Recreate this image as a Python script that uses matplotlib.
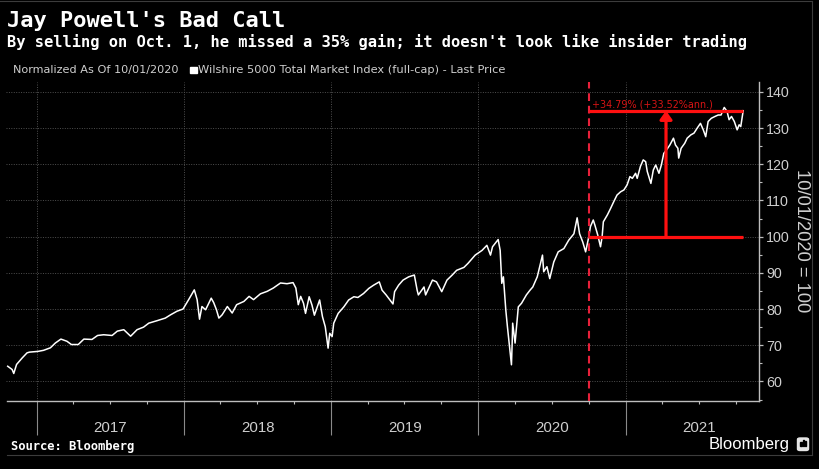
"""Jay Powell's Bad Call: Wilshire 5000 normalized to 10/01/2020 = 100, Bloomberg terminal style.

Values were read by eye off the published chart (roughly weekly turning points),
so the line is a traced approximation, not the daily index.
"""

import matplotlib

matplotlib.use("Agg")
import matplotlib.dates as mdates
import matplotlib.pyplot as plt
import pandas as pd
from matplotlib.lines import Line2D
from matplotlib.patches import FancyBboxPatch, Rectangle
from matplotlib.ticker import MultipleLocator

# --- data ------------------------------------------------------------------
DATES = [
    "2016-10-20", "2016-10-31", "2016-11-04", "2016-11-11", "2016-11-25", "2016-12-07",
    "2016-12-13", "2017-01-03", "2017-01-17", "2017-02-03", "2017-02-15", "2017-03-01",
    "2017-03-16", "2017-03-27", "2017-04-13", "2017-04-27", "2017-05-17", "2017-05-31",
    "2017-06-15", "2017-07-06", "2017-07-19", "2017-08-04", "2017-08-21", "2017-09-06",
    "2017-09-22", "2017-10-05", "2017-10-26", "2017-11-15", "2017-11-28", "2017-12-14",
    "2017-12-29", "2018-01-12", "2018-01-26", "2018-02-02", "2018-02-08", "2018-02-14",
    "2018-02-23", "2018-03-09", "2018-03-15", "2018-03-22", "2018-03-28", "2018-04-05",
    "2018-04-18", "2018-04-30", "2018-05-11", "2018-05-29", "2018-06-11", "2018-06-22",
    "2018-07-09", "2018-07-26", "2018-08-10", "2018-08-28", "2018-09-13", "2018-09-28",
    "2018-10-05", "2018-10-11", "2018-10-17", "2018-10-24", "2018-10-29", "2018-11-07",
    "2018-11-14", "2018-11-20", "2018-12-03", "2018-12-10", "2018-12-17", "2018-12-24",
    "2018-12-28", "2019-01-03", "2019-01-07", "2019-01-18", "2019-02-01", "2019-02-13",
    "2019-02-26", "2019-03-08", "2019-03-22", "2019-04-04", "2019-04-16", "2019-04-30",
    "2019-05-07", "2019-05-17", "2019-06-03", "2019-06-07", "2019-06-17", "2019-06-28",
    "2019-07-12", "2019-07-26", "2019-08-02", "2019-08-05", "2019-08-19", "2019-08-23",
    "2019-09-09", "2019-09-19", "2019-10-02", "2019-10-15", "2019-10-28", "2019-11-08",
    "2019-11-26", "2019-12-06", "2019-12-24", "2020-01-10", "2020-01-22", "2020-01-31",
    "2020-02-05", "2020-02-19", "2020-02-24", "2020-02-27", "2020-02-28", "2020-03-03",
    "2020-03-09", "2020-03-13", "2020-03-23", "2020-03-25", "2020-03-26", "2020-04-01",
    "2020-04-09", "2020-04-17", "2020-04-29", "2020-05-08", "2020-05-15", "2020-05-26",
    "2020-06-08", "2020-06-11", "2020-06-19", "2020-06-26", "2020-07-06", "2020-07-17",
    "2020-07-31", "2020-08-12", "2020-08-25", "2020-09-02", "2020-09-08", "2020-09-16",
    "2020-09-23", "2020-10-01", "2020-10-05", "2020-10-12", "2020-10-16", "2020-10-23",
    "2020-10-30", "2020-11-03", "2020-11-06", "2020-11-16", "2020-11-24", "2020-12-02",
    "2020-12-10", "2020-12-19", "2020-12-27", "2021-01-04", "2021-01-11", "2021-01-17",
    "2021-01-25", "2021-01-29", "2021-02-06", "2021-02-13", "2021-02-19", "2021-02-23",
    "2021-03-04", "2021-03-10", "2021-03-16", "2021-03-24", "2021-03-30", "2021-04-05",
    "2021-04-12", "2021-04-20", "2021-04-29", "2021-05-04", "2021-05-10", "2021-05-12",
    "2021-05-18", "2021-05-27", "2021-06-02", "2021-06-11", "2021-06-19", "2021-06-27",
    "2021-07-05", "2021-07-12", "2021-07-18", "2021-07-24", "2021-08-01", "2021-08-10",
    "2021-08-18", "2021-08-25", "2021-09-02", "2021-09-09", "2021-09-14", "2021-09-20",
    "2021-09-27", "2021-10-04", "2021-10-09", "2021-10-13", "2021-10-19",
]
VALUES = [
    64.2, 63.3, 62.2, 64.7, 66.5, 67.9,
    68.1, 68.3, 68.6, 69.3, 70.6, 71.7,
    71.1, 70.2, 70.2, 71.7, 71.6, 72.7,
    72.9, 72.7, 73.9, 74.3, 72.5, 74.3,
    75.0, 76.1, 76.8, 77.5, 78.4, 79.4,
    80.0, 82.6, 85.3, 82.6, 77.2, 80.7,
    79.8, 83.0, 81.8, 79.8, 77.5, 78.4,
    80.7, 78.9, 81.2, 82.1, 83.5, 82.6,
    84.2, 84.9, 85.8, 87.2, 87.0, 87.3,
    85.8, 81.2, 83.5, 81.6, 78.8, 83.4,
    81.1, 78.3, 82.5, 77.9, 75.1, 69.2,
    73.3, 72.4, 76.1, 78.8, 80.6, 82.5,
    83.4, 83.2, 84.3, 85.7, 86.6, 87.5,
    85.2, 83.9, 81.4, 84.8, 86.6, 88.0,
    88.9, 89.4, 85.2, 83.9, 86.1, 83.9,
    88.0, 87.5, 84.8, 88.0, 89.4, 90.7,
    91.5, 92.6, 94.9, 96.2, 97.6, 94.9,
    97.2, 99.2, 96.2, 89.8, 87.1, 88.9,
    79.7, 75.1, 64.6, 71.5, 76.1, 70.6,
    80.6, 81.6, 83.9, 85.2, 86.1, 88.9,
    94.9, 90.3, 91.7, 88.4, 93.0, 95.8,
    96.7, 99.0, 100.8, 105.2, 100.8, 98.5,
    95.8, 100.0, 102.8, 104.6, 103.2, 100.5,
    97.2, 100.0, 104.1, 106.0, 107.8, 109.7,
    111.5, 112.4, 112.9, 114.3, 116.6, 116.1,
    117.5, 116.1, 119.4, 121.2, 120.7, 118.0,
    114.7, 118.4, 119.8, 117.5, 119.8, 123.0,
    124.0, 125.3, 127.2, 125.3, 124.4, 121.7,
    124.4, 125.8, 127.2, 128.1, 128.6, 130.0,
    131.3, 129.5, 127.6, 131.8, 132.7, 133.2,
    133.6, 133.6, 135.7, 134.6, 132.3, 133.2,
    131.8, 129.5, 130.9, 130.4, 134.79,
]
SELL_DATE = "2020-10-01"
GAIN_LABEL = "+34.79% (+33.52%ann.)"
YEARS = [2017, 2018, 2019, 2020, 2021]
Y_TICKS = [60, 70, 80, 90, 100, 110, 120, 130, 140]

TITLE = "Jay Powell's Bad Call"
SUBTITLE = "By selling on Oct. 1, he missed a 35% gain; it doesn't look like insider trading"
NORM_TEXT = "Normalized As Of 10/01/2020"
SERIES_TEXT = "Wilshire 5000 Total Market Index (full-cap) - Last Price"
Y_LABEL = "10/01/2020 = 100"
SOURCE = "Source: Bloomberg"

# --- style -------------------------------------------------------------------
W, H = 820, 469
MONO = ["DejaVu Sans Mono"]
NARROW = ["Liberation Sans Narrow", "Liberation Sans", "DejaVu Sans"]
GREY_TXT = "#cfcfcf"
AXIS = "#bdbdbd"
GRID = "#4f4f4f"
RED = "#ff1010"
RED_DASH = "#e8203a"


def fx(px):
    return px / W


def fy(py):
    return 1 - py / H


def main():
    dates = pd.to_datetime(DATES)
    sell = pd.Timestamp(SELL_DATE)
    end = dates[-1]
    top = VALUES[-1]
    base = VALUES[DATES.index(SELL_DATE)]

    fig = plt.figure(figsize=(W / 100, H / 100), dpi=100, facecolor="black")
    ax = fig.add_axes([fx(6.5), fy(401), fx(759.3 - 6.5), (401 - 81.7) / H])
    ax.set_facecolor("black")

    ax.plot(dates, VALUES, color="white", lw=1.1, solid_joinstyle="round", zorder=3)

    # red annotation: sell date, base/end levels, gain arrow
    ax.axvline(sell, color=RED_DASH, lw=1.5, ls=(0, (3.7, 2.3)), zorder=4)
    ax.hlines([base, top], sell, end, color=RED, lw=2.3, zorder=4)
    mid = sell + (end - sell) / 2
    ax.annotate("", xy=(mid, top), xytext=(mid, base),
                arrowprops=dict(arrowstyle="-|>,head_width=0.36,head_length=0.5",
                                color=RED, lw=2.3, shrinkA=0, shrinkB=0), zorder=4)
    ax.annotate(GAIN_LABEL, xy=(sell, top), xytext=(2.5, 1.2), textcoords="offset points",
                ha="left", va="bottom", fontsize=6.9, color="#d81414", zorder=5)

    # axes
    ax.set_xlim(pd.Timestamp("2016-10-17"), pd.Timestamp("2021-11-28"))
    ax.set_ylim(54.6, 142.8)
    for side in ("top", "left"):
        ax.spines[side].set_visible(False)
    for side in ("bottom", "right"):
        ax.spines[side].set_color(AXIS)
        ax.spines[side].set_linewidth(1.0)

    ax.yaxis.tick_right()
    ax.set_yticks(Y_TICKS)
    ax.yaxis.set_minor_locator(MultipleLocator(5))
    ax.tick_params(axis="y", which="major", direction="out", length=3, width=0.9,
                   color=AXIS, labelcolor=GREY_TXT, labelsize=10.3, pad=2,
                   labelfontfamily=NARROW)
    ax.tick_params(axis="y", which="minor", direction="out", length=2, width=0.8, color=AXIS)

    ax.xaxis.set_major_locator(mdates.YearLocator())
    ax.xaxis.set_minor_locator(mdates.MonthLocator(bymonth=[4, 7, 10]))
    ax.tick_params(axis="x", which="major", direction="out", length=24.5, width=0.8,
                   color="#8a8a8a", labelbottom=False)
    ax.tick_params(axis="x", which="minor", direction="out", length=2.2, width=0.8,
                   color=AXIS)

    ax.grid(True, which="major", axis="both", color=GRID, lw=0.7, ls=(0, (1, 1.5)))
    ax.set_axisbelow(True)

    for year in YEARS:
        ax.text(pd.Timestamp(f"{year}-07-02"), -27 / 319.3, str(year),
                transform=ax.get_xaxis_transform(), ha="center", va="center",
                fontsize=10.8, color=GREY_TXT, family=NARROW)

    # header
    fig.text(fx(7), fy(26.7), TITLE, family=MONO, fontweight="bold", fontsize=15.8,
             color="white", va="baseline")
    fig.text(fx(7), fy(46.7), SUBTITLE, family=MONO, fontweight="bold", fontsize=11.1,
             color="white", va="baseline")
    fig.text(fx(12.7), fy(73.3), NORM_TEXT, fontsize=8.1, color=GREY_TXT, va="baseline")
    fig.patches.append(Rectangle((fx(190.5), fy(73.3)), fx(6.5), 6.5 / H, color="white",
                                 transform=fig.transFigure, figure=fig))
    fig.text(fx(198.5), fy(73.3), SERIES_TEXT, fontsize=8.2, color=GREY_TXT, va="baseline")

    fig.text(fx(802), fy(241), Y_LABEL, rotation=270, ha="center", va="center",
             fontsize=13.2, color=GREY_TXT, family=NARROW)

    # footer
    fig.text(fx(11), fy(450), SOURCE, family=MONO, fontweight="bold", fontsize=8.7,
             color="white", va="baseline")
    fig.text(fx(789.5), fy(449.3), "Bloomberg", family=["Liberation Sans", "DejaVu Sans"],
             fontsize=12, color="white", ha="right", va="baseline")
    fig.patches.append(FancyBboxPatch((fx(797.5), fy(450.5)), fx(11), 12.5 / H,
                                      boxstyle="round,pad=0,rounding_size=0.003",
                                      color="#e6e6e6", transform=fig.transFigure, figure=fig))
    for bx, bh in ((800.3, 3.5), (802.6, 6.0), (804.9, 4.5)):
        fig.patches.append(Rectangle((fx(bx), fy(445.5)), fx(1.4), bh / H, color="black",
                                     transform=fig.transFigure, figure=fig))

    # frame lines
    frame = "#3c3c3c"
    for xs, ys in (((0, 812), (1.5, 1.5)), ((812, 812), (1.5, 455)), ((7, 812), (455, 455))):
        fig.add_artist(Line2D([fx(x) for x in xs], [fy(y) for y in ys], color=frame, lw=0.8))

    fig.savefig("out.png", dpi=100, facecolor="black")
    plt.close(fig)


if __name__ == "__main__":
    main()
